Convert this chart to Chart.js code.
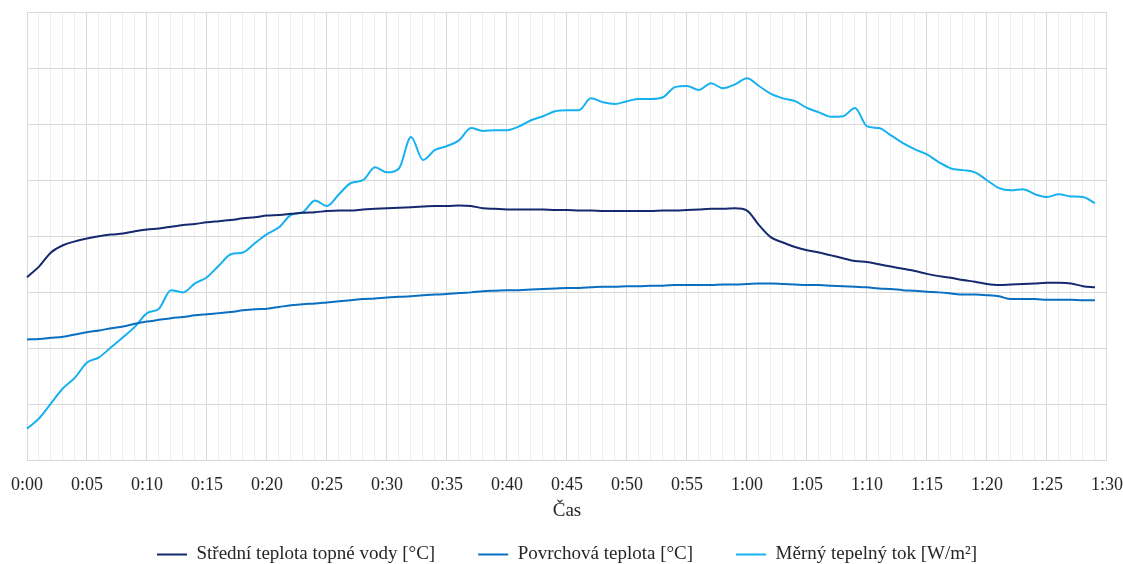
<!DOCTYPE html>
<html>
<head>
<meta charset="utf-8">
<script src="https://cdn.jsdelivr.net/npm/chart.js@4.4.1/dist/chart.umd.min.js"></script>
<style>
  html, body { margin: 0; padding: 0; background: #fff; }
  #wrap { width: 1123px; height: 564px; }
</style>
</head>
<body>
<div id="wrap"><canvas id="chart"></canvas></div>
<script>
// time axis: one category per minute, 0:00 .. 1:30
var timeLabels = [];
for (var m = 0; m <= 90; m++) {
    timeLabels.push(Math.floor(m / 60) + ':' + String(m % 60).padStart(2, '0'));
}

// Střední teplota topné vody [°C]
var waterTemp = [
    32.7, 34.6, 37.1, 38.4, 39.1, 39.6, 40.0, 40.3, 40.5, 40.9,
    41.2, 41.4, 41.7, 42.0, 42.2, 42.5, 42.7, 42.9, 43.2, 43.4,
    43.7, 43.8, 44.0, 44.2, 44.3, 44.5, 44.6, 44.6, 44.8, 44.9,
    45.0, 45.1, 45.2, 45.3, 45.4, 45.4, 45.5, 45.4, 45.0, 44.9,
    44.8, 44.8, 44.8, 44.8, 44.7, 44.7, 44.6, 44.6, 44.5, 44.5,
    44.5, 44.5, 44.5, 44.6, 44.6, 44.7, 44.8, 44.9, 44.9, 45.0,
    44.6, 42.0, 39.8, 38.9, 38.1, 37.5, 37.1, 36.6, 36.1, 35.6,
    35.4, 35.0, 34.6, 34.2, 33.8, 33.3, 32.9, 32.6, 32.2, 31.9,
    31.5, 31.3, 31.4, 31.5, 31.6, 31.7, 31.7, 31.6, 31.1, 30.9
];

// Povrchová teplota [°C]
var surfaceTemp = [
    21.6, 21.7, 21.9, 22.1, 22.5, 22.9, 23.2, 23.6, 23.9, 24.4,
    24.8, 25.1, 25.4, 25.6, 25.9, 26.1, 26.3, 26.5, 26.8, 27.0,
    27.1, 27.4, 27.7, 27.9, 28.0, 28.2, 28.4, 28.6, 28.8, 28.9,
    29.1, 29.2, 29.3, 29.5, 29.6, 29.7, 29.9, 30.0, 30.2, 30.3,
    30.4, 30.4, 30.5, 30.6, 30.7, 30.8, 30.8, 30.9, 31.0, 31.0,
    31.1, 31.1, 31.2, 31.2, 31.3, 31.3, 31.3, 31.3, 31.4, 31.4,
    31.5, 31.6, 31.6, 31.5, 31.4, 31.3, 31.3, 31.2, 31.1, 31.0,
    30.9, 30.7, 30.6, 30.4, 30.3, 30.1, 30.0, 29.8, 29.6, 29.6,
    29.5, 29.3, 28.8, 28.8, 28.8, 28.7, 28.7, 28.7, 28.6, 28.6
];

// Měrný tepelný tok [W/m²]
var heatFlux = [
     5.7,  7.5, 10.2, 12.9, 14.8, 17.5, 18.4, 20.2, 22.0, 23.9,
    26.3, 27.1, 30.4, 30.0, 31.6, 32.7, 34.8, 36.8, 37.1, 38.8,
    40.4, 41.6, 43.8, 44.3, 46.4, 45.4, 47.5, 49.5, 50.0, 52.3,
    51.4, 52.1, 57.7, 53.6, 55.4, 56.1, 57.1, 59.3, 58.8, 58.9,
    58.9, 59.6, 60.7, 61.4, 62.3, 62.5, 62.5, 64.6, 63.9, 63.6,
    64.1, 64.5, 64.5, 64.8, 66.6, 66.8, 66.1, 67.3, 66.4, 67.1,
    68.2, 66.8, 65.4, 64.6, 64.1, 62.9, 62.1, 61.3, 61.4, 62.9,
    59.6, 59.3, 58.0, 56.6, 55.5, 54.6, 53.2, 52.1, 51.8, 51.4,
    50.0, 48.6, 48.2, 48.4, 47.5, 47.0, 47.5, 47.1, 47.0, 45.9
];

var seriesNames = ['Střední teplota topné vody [°C]', 'Povrchová teplota [°C]', 'Měrný tepelný tok [W/m²]'];
var seriesColors = ['#14296e', '#0a6fc0', '#16b1ee'];

function lineSet(name, values, color) {
    return {
        label: name,
        data: values,
        borderColor: color,
        backgroundColor: color,
        borderWidth: 2,
        pointRadius: 0,
        cubicInterpolationMode: 'monotone',
        fill: false
    };
}

var serif = '"Liberation Serif", "Times New Roman", serif';

var ctx = document.getElementById('chart');
var myChart = new Chart(ctx, {
    type: 'line',
    data: {
        labels: timeLabels,
        datasets: [
            lineSet(seriesNames[0], waterTemp, seriesColors[0]),
            lineSet(seriesNames[1], surfaceTemp, seriesColors[1]),
            lineSet(seriesNames[2], heatFlux, seriesColors[2])
        ]
    },
    options: {
        responsive: true,
        maintainAspectRatio: false,
        animation: false,
        layout: { padding: { left: 27, right: 16, top: 12, bottom: -10 } },
        scales: {
            x: {
                offset: false,
                border: { display: false },
                grid: {
                    drawTicks: true,
                    tickLength: 14,
                    tickColor: 'rgba(0,0,0,0)',
                    color: function (c) {
                        return c.index % 5 === 0 ? '#d9d9d9' : '#efefef';
                    }
                },
                ticks: {
                    autoSkip: false,
                    maxRotation: 0,
                    padding: 0,
                    color: '#262626',
                    font: { family: serif, size: 18 },
                    callback: function (v, i) {
                        return i % 5 === 0 ? timeLabels[i] : '';
                    }
                },
                title: {
                    display: true,
                    text: 'Čas',
                    color: '#262626',
                    font: { family: serif, size: 19 },
                    padding: { top: 3, bottom: -20 }
                }
            },
            y: {
                min: 0,
                max: 80,
                border: { display: false },
                grid: { drawTicks: false, color: '#d9d9d9' },
                ticks: { display: false, stepSize: 10 }
            }
        },
        plugins: {
            legend: {
                position: 'bottom',
                labels: {
                    usePointStyle: true,
                    pointStyle: 'line',
                    pointStyleWidth: 30,
                    padding: 43,
                    color: '#262626',
                    font: { family: serif, size: 19 }
                }
            },
            tooltip: { enabled: false }
        }
    }
});
</script>
</body>
</html>
